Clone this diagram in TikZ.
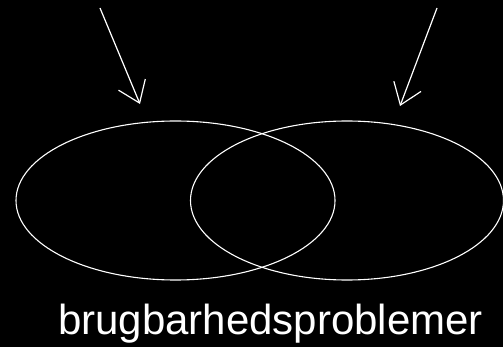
\documentclass[tikz,border=0pt]{standalone}
\usepackage{fontspec}
\setmainfont{Liberation Sans}
\usetikzlibrary{shapes,positioning,calc,arrows.meta}

\begin{document}
\begin{tikzpicture}[
    x=1pt, y=-1pt,
    set/.style={draw=white, line width=1.1pt, ellipse, inner sep=0pt},
    arrow/.style={-{Straight Barb[length=20pt, width=29pt]}, draw=white, line width=1.2pt},
    label/.style={text=white, font=\fontsize{42}{42}\selectfont, inner sep=0pt, anchor=base}
]
\fill[black] (0,0) rectangle (503,347);
\useasboundingbox (0,0) rectangle (503,347);

\node[set, minimum width=319pt, minimum height=159pt] (left)  at (175.5,200.5) {};
\node[set, minimum width=313pt, minimum height=159pt] (right) at (347,200.5) {};

\coordinate (lstart) at (100,8);
\coordinate (lend)   at (140,104);
\coordinate (rstart) at (437,8);
\coordinate (rend)   at (400,106);

\draw[arrow] (lstart) -- (lend);
\draw[arrow] (rstart) -- (rend);

\node[label] (problems) at (270.5,334) {brugbarhedsproblemer};
\end{tikzpicture}
\end{document}
